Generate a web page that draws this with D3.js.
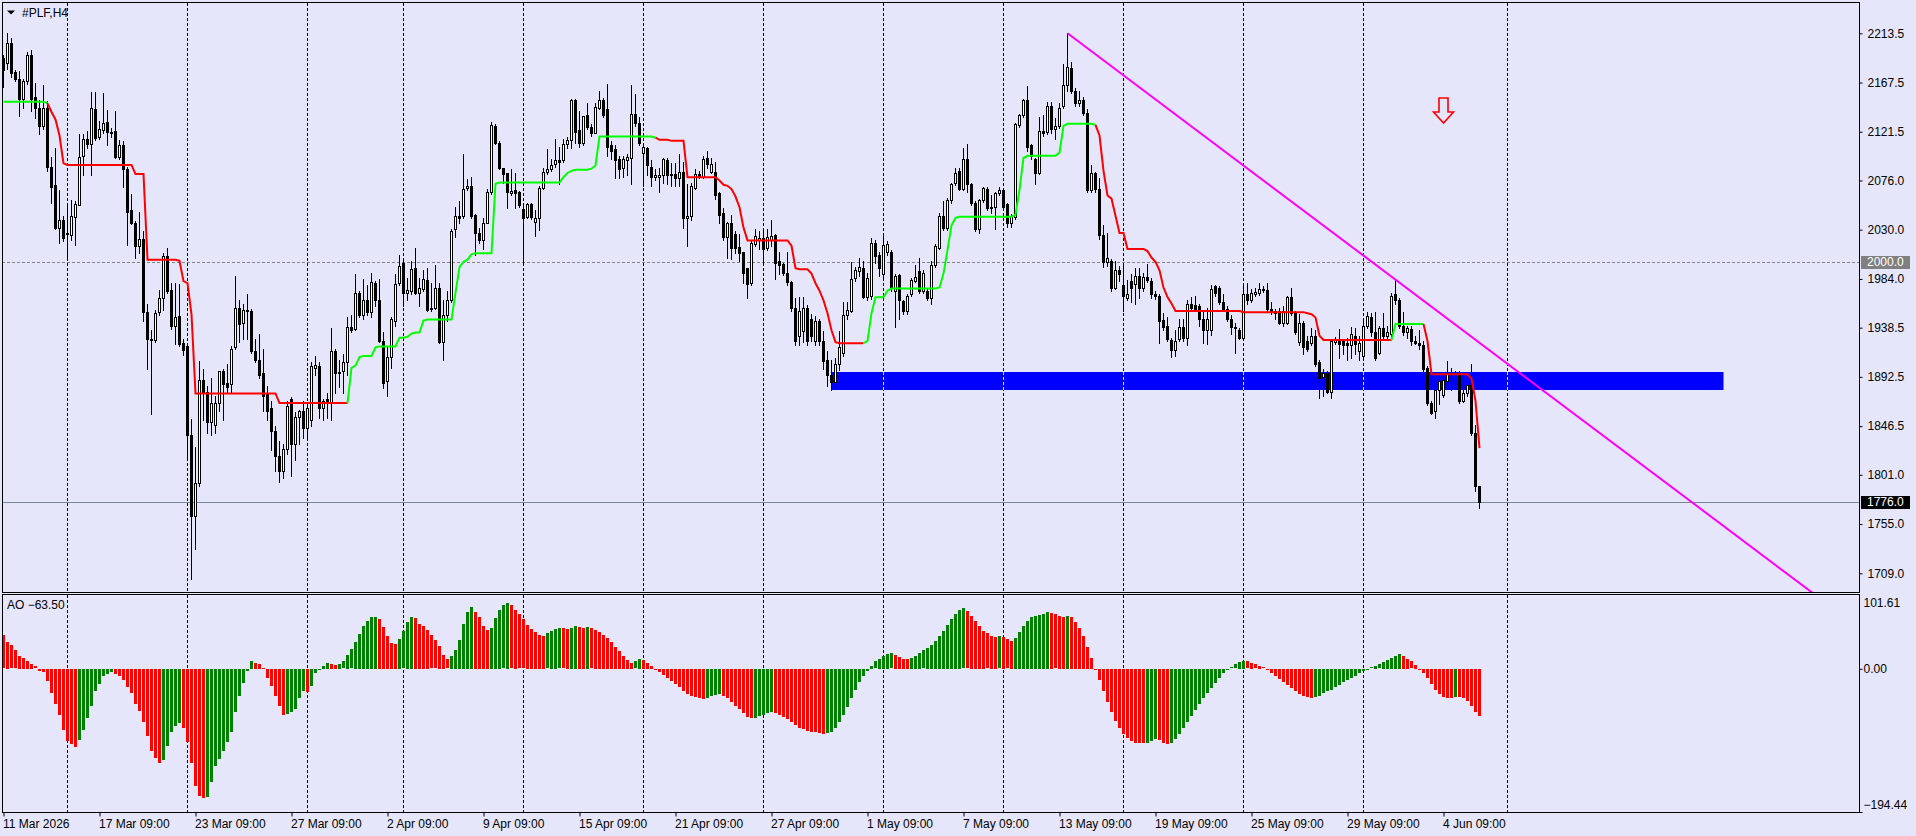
<!DOCTYPE html>
<html>
<head>
<meta charset="utf-8">
<script src="https://d3js.org/d3.v7.min.js"></script>
<style>
  html, body { margin:0; padding:0; background:#e6e6fa; overflow:hidden; }
  svg text { font-family: "Liberation Sans", Arial, sans-serif; font-size: 12px; fill: #000; }
</style>
</head>
<body>
<svg id="chart"></svg>
<script>
// ---------- DATA ----------
var symbol = '#PLF,H4';

// H4 bars, oldest first
var opens = [
2190,2186,2204,2177,2171,2152,2169,2193,2154,2144,
2127,2144,2089,2072,2032,2039,2026,2025,2042,2053,
2099,2115,2110,2143,2117,2123,2131,2121,2122,2098,
2109,2087,2048,2036,2015,2021,1953,1928,1927,1953,
1966,2005,1974,1940,1949,1924,1921,1838,1763,1793,
1890,1878,1850,1848,1868,1898,1887,1886,1920,1957,
1943,1955,1954,1917,1908,1896,1877,1863,1842,1819,
1805,1825,1872,1830,1855,1861,1845,1852,1901,1903,
1863,1872,1869,1917,1896,1898,1906,1939,1937,1971,
1950,1964,1953,1980,1964,1926,1889,1911,1945,1980,
1999,1971,1973,1994,1971,1975,1983,1956,1957,1976,
1925,1950,1964,2031,2043,2043,2069,2071,2044,2027,
2020,2036,2065,2127,2111,2088,2083,2064,2067,2065,
2049,2042,2054,2037,2041,2069,2084,2087,2091,2095,
2095,2110,2114,2151,2123,2111,2137,2126,2120,2144,
2151,2143,2109,2105,2096,2088,2095,2097,2138,2130,
2102,2106,2089,2079,2079,2081,2095,2081,2082,2078,
2084,2041,2043,2069,2082,2079,2097,2084,2084,2064,
2046,2023,2036,2026,2014,2009,1994,1980,2017,2020,
2022,2013,2020,2025,2001,1998,1990,1981,1957,1931,
1935,1957,1947,1926,1945,1926,1908,1894,1888,1905,
1915,1950,1954,1985,1991,1994,1967,1968,2018,2006,
1989,2009,2009,1973,1988,1963,1954,1970,1982,1991,
1973,1973,1966,1997,2013,2043,2032,2058,2074,2085,
2068,2096,2073,2055,2031,2058,2068,2050,2051,2064,
2067,2054,2036,2042,2128,2137,2151,2109,2096,2083,
2122,2121,2146,2124,2127,2146,2165,2181,2160,2148,
2151,2139,2067,2083,2068,2025,2000,2001,1976,1992,
1978,1966,1982,1979,1987,1976,1986,1982,1970,1968,
1946,1940,1927,1918,1928,1939,1929,1961,1960,1959,
1947,1936,1936,1977,1976,1962,1956,1947,1939,1936,
1929,1970,1964,1970,1971,1974,1974,1956,1954,1954,
1943,1943,1967,1952,1925,1943,1926,1924,1931,1906,
1892,1896,1878,1925,1927,1926,1924,1922,1931,1917,
1912,1940,1948,1934,1915,1938,1931,1933,1970,1964,
1940,1934,1937,1926,1924,1922,1901,1868,1861,1880,
1876,1889,1895,1895,1896,1870,1877,1885,1840,1791
];
var highs = [
2193,2214,2209,2179,2178,2171,2196,2198,2167,2151,
2165,2150,2098,2106,2067,2043,2052,2058,2057,2119,
2119,2122,2159,2159,2132,2158,2142,2125,2141,2114,
2113,2089,2063,2038,2047,2029,1961,1936,1955,1974,
2008,2013,1980,1980,1979,1928,1924,1853,1827,1907,
1900,1884,1891,1875,1898,1900,1905,1921,1987,1964,
1961,1970,1956,1928,1933,1919,1884,1870,1847,1833,
1830,1870,1874,1860,1862,1870,1866,1906,1912,1906,
1872,1877,1938,1919,1908,1914,1948,1950,1989,1973,
1984,1978,1990,1982,1984,1934,1920,1948,1989,2006,
2004,1985,2001,2013,1985,1992,1994,1980,1997,1980,
1964,1973,2031,2051,2057,2101,2077,2079,2045,2032,
2041,2068,2131,2129,2113,2088,2083,2087,2083,2066,
2052,2055,2055,2048,2071,2088,2105,2096,2115,2107,
2115,2117,2152,2152,2141,2136,2148,2129,2148,2160,
2153,2166,2113,2109,2099,2099,2101,2165,2157,2135,
2109,2107,2095,2087,2088,2097,2097,2092,2092,2101,
2093,2073,2074,2087,2085,2099,2104,2097,2093,2065,
2050,2037,2044,2029,2026,2009,1994,2020,2031,2029,
2032,2031,2039,2026,2009,1999,2009,1982,1966,1967,
1967,1960,1951,1949,1947,1935,1917,1908,1910,1935,
1962,1962,2000,1995,2004,2001,1990,2022,2020,2009,
2026,2019,2011,1989,1989,1964,1970,1985,1997,2004,
1992,1976,2001,2017,2046,2057,2060,2074,2088,2088,
2106,2110,2074,2057,2059,2070,2070,2062,2065,2070,
2068,2055,2045,2130,2138,2152,2164,2110,2097,2135,
2137,2149,2149,2134,2148,2185,2213.5,2187,2162,2160,
2154,2143,2090,2084,2078,2034,2027,2003,2001,1996,
1996,1983,1989,1994,1994,1990,1998,1985,1973,1970,
1952,1948,1929,1936,1947,1947,1964,1967,1968,1961,
1953,1957,1978,1978,1977,1970,1959,1950,1943,1938,
1980,1980,1975,1976,1980,1977,1980,1962,1956,1957,
1959,1968,1976,1954,1951,1945,1931,1938,1936,1908,
1900,1898,1928,1930,1937,1928,1929,1939,1938,1931,
1945,1953,1952,1953,1940,1952,1940,1971,1984,1966,
1953,1940,1940,1931,1936,1926,1903,1870,1883,1891,
1891,1907,1901,1898,1898,1883,1886,1905,1848,1791
];
var lows = [
2163,2180,2173,2169,2136,2144,2166,2141,2134,2119,
2124,2085,2055,2031,2018,2019,2003,2020,2016,2053,
2081,2106,2081,2114,2115,2120,2109,2117,2097,2096,
2070,2016,2035,2004,2008,1945,1900,1858,1925,1950,
1955,1971,1937,1923,1921,1913,1818,1704,1732,1791,
1852,1840,1838,1840,1861,1852,1877,1877,1919,1925,
1928,1928,1915,1906,1891,1861,1852,1824,1805,1794,
1798,1820,1800,1815,1830,1835,1835,1847,1894,1854,
1852,1854,1852,1877,1883,1877,1894,1934,1936,1948,
1947,1950,1948,1959,1925,1882,1875,1901,1940,1978,
1959,1964,1970,1970,1959,1973,1954,1954,1956,1924,
1908,1945,1962,2023,2036,2041,2067,2041,2006,2018,
2012,2036,2063,2110,2087,2074,2050,2062,2050,2051,
1997,2041,2040,2024,2030,2068,2082,2085,2089,2073,
2093,2106,2106,2111,2107,2109,2124,2118,2120,2143,
2135,2099,2096,2078,2078,2079,2081,2073,2127,2109,
2071,2081,2071,2076,2065,2074,2073,2071,2071,2071,
2032,2015,2039,2068,2078,2078,2088,2083,2059,2036,
2020,2004,2003,2008,2001,1980,1966,1978,2015,2012,
1997,2011,2015,1984,1989,1988,1978,1954,1922,1922,
1925,1922,1926,1922,1922,1900,1884,1880,1882,1899,
1912,1947,1953,1982,1987,1966,1964,1965,1999,1987,
1984,2006,1973,1939,1947,1951,1951,1968,1981,1971,
1971,1964,1961,1995,2012,2030,2030,2055,2072,2067,
2067,2065,2053,2029,2027,2056,2048,2046,2031,2062,
2048,2033,2033,2040,2126,2135,2104,2096,2073,2082,
2118,2119,2120,2115,2125,2144,2160,2158,2146,2146,
2137,2065,2065,2065,2021,1995,1996,1973,1975,1982,
1954,1964,1962,1961,1966,1973,1981,1966,1965,1924,
1936,1926,1911,1912,1926,1926,1922,1954,1954,1940,
1924,1923,1932,1968,1961,1954,1945,1933,1915,1928,
1927,1961,1962,1968,1969,1972,1954,1951,1947,1942,
1940,1942,1950,1933,1922,1914,1917,1922,1903,1873,
1875,1877,1873,1923,1910,1914,1908,1910,1914,1908,
1910,1938,1931,1908,1914,1929,1928,1929,1961,1938,
1932,1929,1922,1923,1919,1898,1866,1858,1854,1867,
1874,1887,1880,1894,1868,1869,1875,1838,1786,1770
];
var closes = [
2179,2204,2176,2171,2152,2169,2193,2152,2144,2127,
2144,2089,2070,2032,2039,2022,2027,2043,2054,2098,
2115,2110,2144,2116,2124,2130,2121,2120,2098,2109,
2087,2047,2036,2015,2021,1953,1928,1927,1952,1966,
2005,1973,1940,1948,1923,1918,1838,1763,1793,1890,
1878,1850,1868,1868,1898,1886,1883,1919,1957,1942,
1955,1954,1917,1908,1894,1875,1861,1842,1819,1805,
1825,1865,1830,1855,1861,1845,1863,1903,1904,1863,
1870,1869,1917,1896,1897,1906,1939,1936,1971,1950,
1964,1953,1981,1964,1926,1887,1911,1947,1979,1996,
1971,1974,1993,1971,1976,1984,1955,1957,1976,1925,
1950,1964,2029,2043,2041,2068,2071,2043,2027,2020,
2036,2065,2128,2111,2088,2082,2065,2066,2064,2053,
2041,2054,2042,2041,2069,2084,2087,2090,2095,2093,
2110,2114,2151,2121,2111,2136,2126,2120,2145,2151,
2137,2107,2104,2095,2087,2096,2098,2138,2130,2111,
2107,2090,2079,2081,2081,2096,2081,2082,2078,2084,
2041,2043,2071,2082,2079,2096,2091,2091,2062,2044,
2023,2036,2013,2013,2008,1990,1979,2018,2024,2022,
2012,2023,2024,1999,1997,1990,1981,1957,1926,1954,
1957,1926,1931,1945,1926,1907,1894,1888,1905,1920,
1950,1955,1984,1992,1995,1967,1985,2018,2005,1994,
2016,2017,1976,1987,1964,1954,1968,1983,1986,1973,
1990,1966,1997,2015,2043,2032,2058,2073,2083,2068,
2096,2073,2055,2031,2058,2069,2050,2051,2064,2067,
2051,2036,2043,2129,2137,2151,2107,2099,2083,2122,
2120,2146,2124,2127,2144,2165,2182,2160,2148,2151,
2139,2067,2083,2068,2025,2000,2004,1976,1992,1989,
1968,1970,1976,1987,1976,1986,1983,1970,1968,1945,
1939,1928,1918,1926,1939,1929,1961,1957,1956,1947,
1936,1947,1975,1971,1962,1956,1947,1939,1938,1929,
1970,1964,1971,1972,1975,1975,1956,1953,1952,1943,
1954,1967,1952,1934,1943,1920,1919,1931,1905,1891,
1896,1878,1926,1928,1923,1922,1922,1933,1923,1924,
1940,1949,1934,1910,1938,1931,1934,1968,1964,1940,
1934,1938,1926,1924,1922,1900,1868,1859,1880,1889,
1890,1896,1896,1896,1870,1877,1885,1840,1791,1776
];

// trailing stop line (red above / lime below)
var stopLine = [
2149.5,2149.5,2149.5,2149.5,2149.5,2149.5,2149.5,2149.5,2149.5,2149.5,
2149.5,2148,2140,2133,2118,2092,2090.5,2090.5,2090.5,2090.5,
2090.5,2090.5,2090.5,2090.5,2090.5,2090.5,2090.5,2090.5,2090.5,2090.5,
2090.5,2090.5,2090.5,2082,2082,2082,2002,2002,2002,2002,
2002,2002,2002,2002,2001,1982,1980,1951,1877,1877,
1877,1877,1877,1877,1877,1877,1877,1877,1877,1877,
1877,1877,1877,1877,1877,1877,1877,1877,1877,1868,
1868,1868,1868,1868,1868,1868,1868,1868,1868,1868,
1868,1868,1868,1868,1868,1868,1868,1901,1903,1911,
1912,1912,1912,1920,1921,1921,1921,1921,1921,1929,
1929,1930,1933,1934,1934,1945,1946,1946,1946,1946,
1946,1946,1946,1971,1995,2000,2002,2007,2008,2008,
2008,2008,2008,2073,2074,2074,2074,2074,2074,2074,
2074,2074,2074,2074,2074,2074,2074,2074,2074,2074,
2079,2083,2085,2086,2086,2086,2086,2087,2090,2117,
2117,2117,2117,2117,2117,2117,2117,2117,2117,2117,
2117,2117,2117,2116,2114,2114,2114,2113,2113,2113,
2113,2079,2079,2079,2079,2079,2079,2079,2079,2076,
2072,2071,2068,2061,2051,2032,2020,2020,2020,2020,
2020,2020,2020,2020,2020,2020,2020,2015,1994,1993,
1993,1993,1989,1980,1973,1964,1952,1936,1925,1924,
1924,1924,1924,1924,1924,1924,1926,1952,1967,1967,
1967,1973,1975,1975,1975,1975,1975,1975,1975,1975,
1975,1975,1975,1975,1976,1989,2011,2034,2041,2042,
2042,2042,2042,2042,2042,2042,2042,2042,2042,2042,
2042,2042,2042,2044,2067,2097,2099,2099,2099,2099,
2099,2099,2099,2099,2102,2127,2129,2129,2129,2129,
2129,2129,2129,2128,2118,2085,2062,2059,2043,2027,
2027,2012,2012,2012,2012,2012,2010,2004,2000,1992,
1976,1967,1961,1954,1954,1954,1954,1954,1954,1954,
1954,1954,1954,1954,1954,1954,1954,1954,1954,1954,
1953,1953,1953,1953,1953,1953,1953,1953,1953,1953,
1953,1953,1953,1953,1953,1953,1952,1951,1948,1931,
1927,1927,1927,1927,1927,1927,1927,1927,1927,1927,
1927,1927,1927,1927,1927,1927,1927,1927,1942,1942,
1942,1942,1942,1942,1942,1942,1926,1895,1895,1895,
1895,1895,1895,1895,1895,1895,1895,1891,1870,1826
];
// bar where the stop line changes side: [bar, 1 = up (lime), -1 = down (red)]
var stopSwitches = [[0,1],[11,-1],[86,1],[163,-1],[215,1],[273,-1],[347,1],[355,-1]];

// Awesome Oscillator, one value per bar
var aoValues = [
45.3,37.1,31.7,24.9,17.2,14.5,11.3,6.8,3.2,-2.7,
-3.6,-15.8,-32.6,-47.5,-62.5,-82.4,-97.3,-101.9,-105.5,-96.0,
-82.4,-66.1,-49.8,-29.4,-20.4,-10.0,-6.8,-4.5,-6.8,-9.1,
-14.9,-24.0,-32.6,-47.5,-56.6,-71.5,-90.5,-110.9,-121.3,-128.1,
-123.1,-105.0,-86.0,-77.0,-73.8,-80.6,-98.7,-128.1,-158.4,-172.9,
-175.6,-174.3,-153.9,-131.3,-122.2,-110.9,-99.6,-85.1,-57.9,-37.1,
-19.0,-2.3,11.3,8.1,6.8,0.9,-11.8,-23.5,-36.2,-50.7,
-62.0,-60.7,-57.9,-54.3,-39.8,-29.4,-30.8,-22.6,-5.4,-0.9,
3.6,8.1,6.3,5.4,6.8,10.0,19.0,26.3,37.1,47.5,
57.9,65.2,70.2,71.0,67.9,56.6,44.4,35.3,34.0,40.7,
50.7,63.4,70.2,69.5,61.1,57.9,53.4,45.3,38.5,30.8,
19.0,12.7,17.2,25.8,39.4,61.1,77.0,83.7,77.0,70.2,
58.8,53.4,55.2,68.8,80.1,86,89,86,80,74,
67,60,54,50,46,45,48,52,54,55,
55,54,56,58,57,56,57,55,53,50,
46,42,36,30,24,18,12,8,10,14,
12,8,4,0,-4,-8,-12,-16,-20,-25,
-30,-34,-36,-38,-40,-41,-40,-37,-35,-34,
-36,-40,-45,-50,-55,-60,-65,-67,-66,-64,
-62,-60,-59,-60,-62,-65,-68,-72,-76,-80,
-82,-84,-85,-86,-87,-88,-87,-85,-80,-72,
-62,-52,-40,-28,-18,-10,-3,4,10,14,
18,20,21,19,16,14,13,15,18,22,
25,28,32,38,45,52,60,68,75,80,
82,78,72,65,58,52,48,45,43,44,
43,40,38,42,50,58,65,70,72,73,
75,77,76,74,72,71,72,70,64,56,
45,30,15,0,-15,-30,-45,-58,-70,-80,
-88,-94,-98,-100,-101,-101,-100,-98,-95,-97,
-100,-102,-100,-95,-88,-80,-72,-64,-56,-48,
-40,-33,-26,-19,-12,-6,-2,2,6,9,
11,10,8,6,4,2,-2,-6,-10,-14,
-18,-22,-26,-30,-34,-36,-38,-39,-38,-36,
-33,-30,-28,-25,-22,-18,-15,-12,-9,-6,
-3,0,2,4,6,9,12,15,18,20,
18,14,10,5,0,-5,-12,-20,-28,-34,
-38,-40,-40,-38,-38,-40,-44,-50,-58,-63.5
];

var priceTicks = [2213.5, 2167.5, 2121.5, 2076.0, 2030.0, 1984.0, 1938.5, 1892.5, 1846.5, 1801.0, 1755.0, 1709.0];
var aoTicks = [101.61, 0, -194.44];
var dateLabels = ['11 Mar 2026','17 Mar 09:00','23 Mar 09:00','27 Mar 09:00','2 Apr 09:00','9 Apr 09:00',
  '15 Apr 09:00','21 Apr 09:00','27 Apr 09:00','1 May 09:00','7 May 09:00','13 May 09:00',
  '19 May 09:00','25 May 09:00','29 May 09:00','4 Jun 09:00'];
var dateBars = [0,24,48,72,96,120,144,168,192,216,240,264,288,312,336,360];
var gridBars = [16,46,76,100,130,160,190,220,250,280,310,340,376];

// chart objects
var levelPrice = 2000.0;
var bidPrice = 1776.0;
var zone = {fromBar:207, toBar:430, low:1880, high:1897};
var trendFrom = {bar:266, price:2213.5}, trendTo = {bar:372, price:1916};
var arrowMark = {bar:360, price:2153};

// ---------- LAYOUT ----------
var width = 1916, height = 836;
var main = {left:2, right:1859, top:2, bottom:592};
var aoPane = {top:594, bottom:812};

var svg = d3.select('#chart').attr('width', width).attr('height', height)
  .style('display','block');
svg.append('rect').attr('width', width).attr('height', height).attr('fill', '#e6e6fa');

var defs = svg.append('defs');
defs.append('clipPath').attr('id','clipMain').append('rect')
  .attr('x', main.left + 1).attr('y', main.top + 1)
  .attr('width', main.right - main.left - 1).attr('height', main.bottom - main.top - 1);
defs.append('clipPath').attr('id','clipAo').append('rect')
  .attr('x', main.left + 1).attr('y', aoPane.top + 1)
  .attr('width', main.right - main.left - 1).attr('height', aoPane.bottom - aoPane.top - 1);

// scales
var x = d3.scaleLinear().domain([0, 1]).range([3.5, 7.5]);
var y = d3.scaleLinear().domain([1709, 2213.5]).range([573.3, 33.3]);
var yAo = d3.scaleLinear().domain([-194.44, 101.61]).range([aoPane.bottom, aoPane.top]);

function crisp(v){ return Math.round(v) + 0.5; }

// ---------- GRID ----------
var grid = svg.append('g');
gridBars.forEach(function(b){
  grid.append('line').attr('x1', x(b)).attr('x2', x(b)).attr('y1', main.top + 1).attr('y2', main.bottom)
    .attr('stroke','#000').attr('stroke-dasharray','3,2');
  grid.append('line').attr('x1', x(b)).attr('x2', x(b)).attr('y1', aoPane.top + 1).attr('y2', aoPane.bottom)
    .attr('stroke','#000').attr('stroke-dasharray','3,2');
});

var mainG = svg.append('g').attr('clip-path','url(#clipMain)');

// horizontal level and bid line
mainG.append('line').attr('x1', main.left).attr('x2', main.right)
  .attr('y1', crisp(y(levelPrice))).attr('y2', crisp(y(levelPrice)))
  .attr('stroke','#808080').attr('stroke-dasharray','3,2');
mainG.append('line').attr('x1', main.left).attr('x2', main.right)
  .attr('y1', crisp(y(bidPrice))).attr('y2', crisp(y(bidPrice)))
  .attr('stroke','#778899');

// blue zone
var zy0 = Math.round(y(zone.high)), zy1 = Math.round(y(zone.low));
mainG.append('rect').attr('x', x(zone.fromBar)).attr('y', zy0)
  .attr('width', x(zone.toBar) - x(zone.fromBar)).attr('height', zy1 - zy0)
  .attr('fill','#0000ff');
gridBars.forEach(function(b){
  if (b > zone.fromBar && b < zone.toBar) {
    mainG.append('line').attr('x1', x(b)).attr('x2', x(b)).attr('y1', zy0).attr('y2', zy1)
      .attr('stroke','#ffff00').attr('stroke-dasharray','3,2');
  }
});

// ---------- CANDLES ----------
var candleG = mainG.append('g');
closes.forEach(function(c, i){
  var o = opens[i];
  var h = Math.max(highs[i], o, c), l = Math.min(lows[i], o, c);
  var cx = x(i);
  candleG.append('line').attr('x1', cx).attr('x2', cx)
    .attr('y1', Math.round(y(h))).attr('y2', Math.round(y(l)) + 1)
    .attr('stroke','#000');
  var top = Math.round(y(Math.max(o, c))), bot = Math.round(y(Math.min(o, c)));
  if (bot - top < 1) {
    candleG.append('line').attr('x1', cx - 1.5).attr('x2', cx + 1.5)
      .attr('y1', top + 0.5).attr('y2', top + 0.5).attr('stroke','#000');
  } else {
    candleG.append('rect').attr('x', cx - 1).attr('y', top + 0.5)
      .attr('width', 2).attr('height', bot - top)
      .attr('fill', c > o ? '#ffffff' : '#000000').attr('stroke','#000');
  }
});

// ---------- STOP LINE ----------
function sideAt(i){
  var s = 1;
  stopSwitches.forEach(function(d){ if (i >= d[0]) s = d[1]; });
  return s;
}
var runs = [], start = 0;
for (var i = 1; i < stopLine.length; i++) {
  if (sideAt(i) !== sideAt(start)) { runs.push([start, i]); start = i; }
}
runs.push([start, stopLine.length - 1]);
var stopPath = d3.line().x(function(d){ return x(d); }).y(function(d){ return y(stopLine[d]); });
runs.forEach(function(r){
  mainG.append('path').datum(d3.range(r[0], r[1] + 1)).attr('d', stopPath)
    .attr('fill','none').attr('stroke-width', 2)
    .attr('stroke', sideAt(r[0]) > 0 ? '#00ff00' : '#ff0000');
});

// ---------- TRENDLINE (ray) ----------
var slope = (trendTo.price - trendFrom.price) / (trendTo.bar - trendFrom.bar);
var farBar = 480;
mainG.append('line')
  .attr('x1', x(trendFrom.bar)).attr('y1', y(trendFrom.price))
  .attr('x2', x(farBar)).attr('y2', y(trendFrom.price + slope * (farBar - trendFrom.bar)))
  .attr('stroke','#ff00ff').attr('stroke-width', 2);

// ---------- SELL ARROW ----------
var ax = x(arrowMark.bar), at = Math.round(y(arrowMark.price));
mainG.append('path')
  .attr('d', 'M' + (ax - 4.5) + ',' + at + 'H' + (ax + 4.5) + 'V' + (at + 14) +
       'H' + (ax + 10) + 'L' + ax + ',' + (at + 25) + 'L' + (ax - 10) + ',' + (at + 14) +
       'H' + (ax - 4.5) + 'Z')
  .attr('fill','none').attr('stroke','#ff0000').attr('stroke-width', 1.6);

// ---------- AO ----------
var aoG = svg.append('g').attr('clip-path','url(#clipAo)');
var zeroY = yAo(0);
aoValues.forEach(function(v, i){
  var up = i > 0 && v > aoValues[i - 1];
  var yv = yAo(v);
  aoG.append('rect').attr('x', x(i) - 1.5).attr('width', 3)
    .attr('y', Math.round(Math.min(yv, zeroY))).attr('height', Math.max(1, Math.round(Math.abs(yv - zeroY))))
    .attr('fill', up ? '#008000' : '#ff0000');
});

// ---------- FRAMES ----------
svg.append('rect').attr('x', main.left + 0.5).attr('y', main.top + 0.5)
  .attr('width', main.right - main.left).attr('height', main.bottom - main.top)
  .attr('fill','none').attr('stroke','#000');
svg.append('rect').attr('x', main.left + 0.5).attr('y', aoPane.top + 0.5)
  .attr('width', main.right - main.left).attr('height', aoPane.bottom - aoPane.top)
  .attr('fill','none').attr('stroke','#000');

// ---------- AXES ----------
var yAxis = svg.append('g').attr('transform','translate(' + (main.right + 0.5) + ',0)')
  .call(d3.axisRight(y).tickValues(priceTicks).tickSize(3).tickPadding(5).tickFormat(d3.format('.1f')));
var aoAxis = svg.append('g').attr('transform','translate(' + (main.right + 0.5) + ',0)')
  .call(d3.axisRight(yAo).tickValues(aoTicks).tickSize(3).tickPadding(1).tickFormat(d3.format('.2f')));
var xAxis = svg.append('g').attr('transform','translate(0,' + (aoPane.bottom + 0.5) + ')')
  .call(d3.axisBottom(x).tickValues(dateBars).tickSize(4).tickPadding(3)
    .tickFormat(function(d, i){ return dateLabels[i]; }));
[yAxis, aoAxis, xAxis].forEach(function(a){
  a.select('.domain').remove();
  a.selectAll('line').attr('stroke','#000');
  a.selectAll('text').attr('fill','#000').style('font-size','12px')
    .style('font-family','"Liberation Sans", Arial, sans-serif');
});
xAxis.selectAll('text').attr('text-anchor','start').attr('dx', -1);
// the oscillator's top and bottom values sit just inside the pane
aoAxis.selectAll('.tick').filter(function(d){ return d === aoTicks[0]; })
  .select('line').remove();
aoAxis.selectAll('.tick text').attr('y', function(d){
  return d === aoTicks[0] ? 9 : (d === aoTicks[2] ? -7 : 0);
});

// price boxes on the axis
function priceBox(price, bg, fg){
  var cy = y(price);
  svg.append('rect').attr('x', main.right + 2).attr('y', Math.round(cy) - 6)
    .attr('width', 49).attr('height', 13).attr('fill', bg);
  svg.append('text').attr('x', main.right + 8).attr('y', cy).attr('dy','0.35em')
    .attr('fill', fg).style('fill', fg).text(d3.format('.1f')(price));
}
priceBox(levelPrice, '#808080', '#ffffff');
priceBox(bidPrice, '#000000', '#ffffff');

// ---------- LABELS ----------
svg.append('path').attr('d','M7,10.5H15L11,14.5Z').attr('fill','#000');
svg.append('text').attr('x', 22).attr('y', 17).text(symbol);
svg.append('text').attr('x', 7).attr('y', 609)
  .text('AO ' + d3.format('.2f')(aoValues[aoValues.length - 1]));
</script>
</body>
</html>
